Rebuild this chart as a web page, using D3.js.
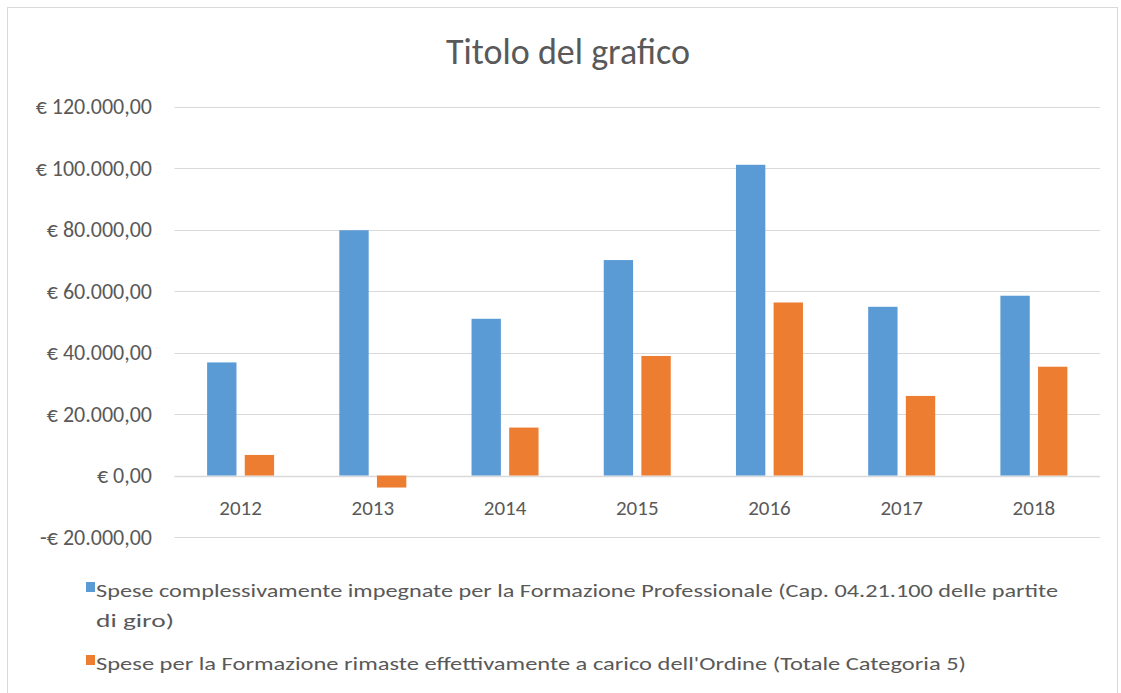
<!DOCTYPE html>
<html lang="it">
<head>
<meta charset="UTF-8">
<title>Titolo del grafico</title>
<script src="https://d3js.org/d3.v7.min.js"></script>
<style>
  body { margin: 0; background: #fff; font-family: Carlito, Lato, "Open Sans", sans-serif; }
</style>
</head>
<body>
<div id="chart"></div>
<script>
// data
const years = ["2012", "2013", "2014", "2015", "2016", "2017", "2018"];
const seriesNames = [
  "Spese complessivamente impegnate per la Formazione Professionale (Cap. 04.21.100 delle partite di giro)",
  "Spese per la Formazione rimaste effettivamente a carico dell'Ordine (Totale Categoria 5)"
];
const speseImpegnate = [36800, 79800, 51000, 70100, 101100, 54900, 58500];
const speseOrdine = [6700, -3900, 15600, 38900, 56300, 25900, 35400];
const yTicks = [-20000, 0, 20000, 40000, 60000, 80000, 100000, 120000];
const colors = ["#5B9BD5", "#ED7D31"];

const width = 1121, height = 693;
const textColor = "#595959", gridColor = "#D9D9D9";

const svg = d3.select("#chart").append("svg")
  .attr("width", width).attr("height", height);

// chart frame
svg.append("rect")
  .attr("x", 7.5).attr("y", 7.5)
  .attr("width", 1110).attr("height", 700)
  .attr("fill", "#fff").attr("stroke", gridColor);

svg.append("text")
  .attr("x", 568).attr("y", 64)
  .attr("text-anchor", "middle")
  .attr("fill", textColor)
  .style("font-size", "36px")
  .text("Titolo del grafico");

const x = d3.scaleBand().domain(years).range([174.5, 1100]);
const xSub = d3.scaleBand().domain([0, 1]).range([0, 67]).paddingInner(0.22);
const y = d3.scaleLinear().domain([-20000, 120000]).range([537, 106.7]);

const fmt = v => {
  const s = d3.format(",.2f")(Math.abs(v)).replace(/,/g, "X").replace(/\./g, ",").replace(/X/g, ".");
  return (v < 0 ? "-€ " : "€ ") + s;
};

// gridlines
svg.append("g")
  .selectAll("line")
  .data(yTicks)
  .join("line")
  .attr("x1", 174.5).attr("x2", 1100)
  .attr("y1", d => Math.round(y(d)) + 0.5)
  .attr("y2", d => Math.round(y(d)) + 0.5)
  .attr("stroke", gridColor)
  .attr("stroke-width", d => d === 0 ? 1.5 : 1);

// y labels
svg.append("g")
  .selectAll("text")
  .data(yTicks)
  .join("text")
  .attr("x", 152)
  .attr("y", d => y(d) + 7.5)
  .attr("text-anchor", "end")
  .attr("fill", textColor)
  .style("font-size", "22px")
  .text(fmt);

// bars
const seriesData = [speseImpegnate, speseOrdine];
const groups = svg.append("g")
  .selectAll("g")
  .data(seriesData)
  .join("g")
  .attr("fill", (d, i) => colors[i]);

groups.selectAll("rect")
  .data((d, i) => d.map((v, j) => ({ v, year: years[j], s: i })))
  .join("rect")
  .attr("x", d => x(d.year) + (x.bandwidth() - 67) / 2 + xSub(d.s))
  .attr("width", xSub.bandwidth())
  .attr("y", d => y(Math.max(0, d.v)))
  .attr("height", d => Math.abs(y(d.v) - y(0)));

// x labels
svg.append("g")
  .selectAll("text")
  .data(years)
  .join("text")
  .attr("x", d => x(d) + x.bandwidth() / 2)
  .attr("y", 515)
  .attr("text-anchor", "middle")
  .attr("fill", textColor)
  .style("font-size", "21px")
  .text(d => d);

// legend
const legendRows = [
  { s: 0, lines: ["Spese complessivamente impegnate per la Formazione Professionale (Cap. 04.21.100 delle partite", "di giro)"], y: 597, w: [962, 78] },
  { s: 1, lines: [seriesNames[1]], y: 670, w: [870] }
];
const legend = svg.append("g");
legendRows.forEach(r => {
  legend.append("rect")
    .attr("x", 86).attr("y", r.y - 15)
    .attr("width", 9).attr("height", 10)
    .attr("fill", colors[r.s]);
  r.lines.forEach((ln, k) => {
    legend.append("text")
      .attr("x", 96).attr("y", r.y + k * 30)
      .attr("fill", textColor)
      .style("font-size", "19px")
      .attr("textLength", r.w[k])
      .attr("lengthAdjust", "spacingAndGlyphs")
      .text(ln);
  });
});
</script>
</body>
</html>
